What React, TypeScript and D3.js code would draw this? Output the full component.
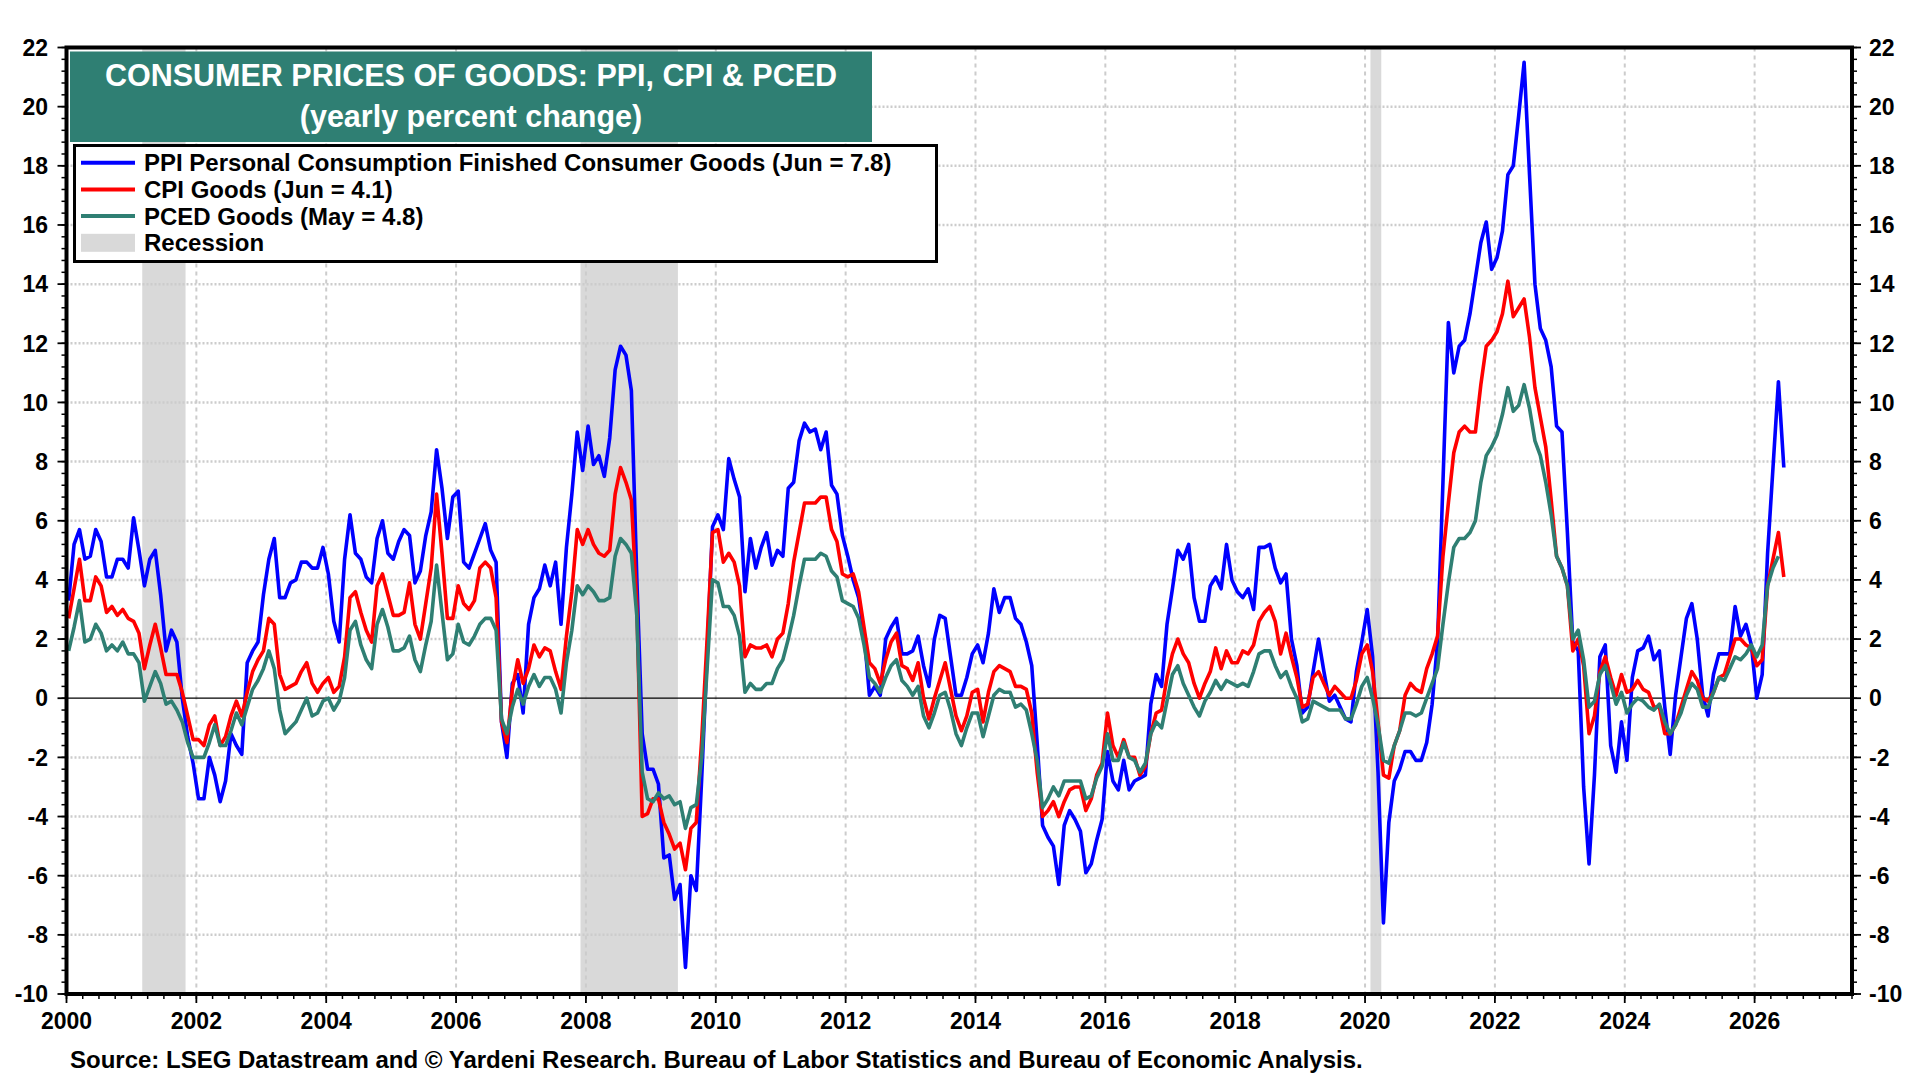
import React from "react";
import * as d3 from "d3";

const START_YEAR = 2000;

const ppi = [
  3.3, 5.2, 5.7, 4.7, 4.8, 5.7, 5.3, 4.1, 4.1, 4.7, 4.7, 4.4,
  6.1, 5.0, 3.8, 4.7, 5.0, 3.5, 1.6, 2.3, 1.9, 0.0, -1.3, -2.2,
  -3.4, -3.4, -2.0, -2.6, -3.5, -2.8, -1.2, -1.6, -1.9, 1.2, 1.6, 1.9,
  3.5, 4.7, 5.4, 3.4, 3.4, 3.9, 4.0, 4.6, 4.6, 4.4, 4.4, 5.1,
  4.2, 2.6, 1.9, 4.7, 6.2, 4.9, 4.7, 4.1, 3.9, 5.4, 6.0, 4.9,
  4.7, 5.3, 5.7, 5.5, 3.9, 4.3, 5.5, 6.3, 8.4, 7.1, 5.4, 6.8,
  7.0, 4.6, 4.4, 4.9, 5.4, 5.9, 5.0, 4.6, -0.8, -2.0, 0.5, 0.8,
  -0.5, 2.5, 3.4, 3.7, 4.5, 3.8, 4.6, 2.5, 5.1, 6.9, 9.0, 7.7,
  9.2, 7.9, 8.2, 7.5, 8.8, 11.1, 11.9, 11.6, 10.4, 4.1, -1.2, -2.4,
  -2.4, -2.9, -5.4, -5.3, -6.8, -6.3, -9.1, -6.0, -6.5, -2.7, 1.5, 5.8,
  6.2, 5.7, 8.1, 7.4, 6.8, 3.6, 5.4, 4.4, 5.1, 5.6, 4.5, 5.0,
  4.8, 7.1, 7.3, 8.7, 9.3, 9.0, 9.1, 8.4, 9.0, 7.2, 6.9, 5.5,
  4.8, 4.0, 3.4, 2.2, 0.1, 0.4, 0.1, 2.0, 2.4, 2.7, 1.5, 1.5,
  1.6, 2.1, 1.1, 0.4, 2.0, 2.8, 2.7, 1.4, 0.1, 0.1, 0.7, 1.5,
  1.8, 1.2, 2.2, 3.7, 2.9, 3.4, 3.4, 2.7, 2.5, 1.9, 1.1, -1.5,
  -4.3, -4.7, -5.0, -6.3, -4.3, -3.8, -4.1, -4.5, -5.9, -5.6, -4.8, -4.1,
  -1.8, -2.8, -3.1, -2.1, -3.1, -2.8, -2.7, -2.6, -0.2, 0.8, 0.4, 2.5,
  3.7, 5.0, 4.7, 5.2, 3.4, 2.6, 2.6, 3.8, 4.1, 3.7, 5.2, 4.0,
  3.6, 3.4, 3.7, 3.0, 5.1, 5.1, 5.2, 4.4, 3.9, 4.2, 2.0, 1.1,
  -0.5, -0.3, 0.9, 2.0, 0.9, -0.1, 0.1, -0.3, -0.7, -0.8, 0.9, 1.9,
  3.0, 1.4, -2.5, -7.6, -4.2, -2.8, -2.4, -1.8, -1.8, -2.1, -2.1, -1.5,
  -0.2, 1.9, 7.3, 12.7, 11.0, 11.9, 12.1, 13.0, 14.2, 15.4, 16.1, 14.5,
  14.9, 15.8, 17.7, 18.0, 19.7, 21.5, 17.7, 14.0, 12.5, 12.1, 11.2, 9.2,
  9.0, 5.6, 1.9, 1.6, -3.0, -5.6, -2.6, 1.4, 1.8, -1.6, -2.5, -0.8,
  -2.1, 0.7, 1.6, 1.7, 2.1, 1.3, 1.6, -0.3, -1.9, 0.1, 1.4, 2.7,
  3.2, 2.0, 0.1, -0.6, 0.8, 1.5, 1.5, 1.5, 3.1, 2.1, 2.5, 1.8,
  0.0, 0.8, 4.9, 7.8, 10.7, 7.8,
];

const cpi = [
  2.7, 3.7, 4.7, 3.3, 3.3, 4.1, 3.8, 2.9, 3.1, 2.8, 3.0, 2.7,
  2.6, 2.2, 1.0, 1.8, 2.5, 1.7, 0.8, 0.8, 0.8, 0.2, -0.6, -1.4,
  -1.4, -1.6, -0.9, -0.6, -1.6, -1.3, -0.6, -0.1, -0.6, 0.2, 0.9, 1.3,
  1.6, 2.7, 2.5, 0.8, 0.3, 0.4, 0.5, 0.9, 1.2, 0.5, 0.2, 0.5,
  0.7, 0.2, 0.4, 1.4, 3.4, 3.6, 2.9, 2.3, 1.9, 3.8, 4.2, 3.5,
  2.8, 2.8, 2.9, 3.9, 2.5, 2.0, 3.2, 4.4, 6.9, 4.9, 2.7, 2.7,
  3.8, 3.2, 3.0, 3.3, 4.4, 4.6, 4.4, 3.4, -0.8, -1.5, 0.3, 1.3,
  0.5, 1.0, 1.8, 1.4, 1.7, 1.6, 0.9, 0.3, 2.1, 3.6, 5.7, 5.2,
  5.7, 5.2, 4.9, 4.8, 5.0, 6.9, 7.8, 7.3, 6.7, 3.2, -4.0, -3.9,
  -3.4, -3.4, -4.2, -4.6, -5.1, -4.9, -5.8, -4.4, -4.2, -1.4, 2.0, 5.6,
  5.7, 4.6, 4.9, 4.6, 3.8, 1.4, 1.8, 1.7, 1.7, 1.8, 1.4, 2.0,
  2.2, 3.2, 4.6, 5.6, 6.6, 6.6, 6.6, 6.8, 6.8, 5.7, 5.3, 4.2,
  4.1, 4.2, 3.6, 2.4, 1.2, 1.0, 0.5, 1.3, 1.9, 2.2, 1.1, 1.0,
  0.6, 1.2, 0.0, -0.7, 0.0, 0.6, 1.2, 0.3, -0.6, -1.1, -0.6, 0.2,
  0.3, -0.8, 0.2, 0.9, 1.1, 1.0, 0.9, 0.4, 0.4, 0.3, -0.5, -2.5,
  -4.0, -3.8, -3.5, -4.0, -3.5, -3.1, -3.0, -3.0, -3.8, -3.4, -2.6, -2.2,
  -0.5, -1.6, -2.0, -1.4, -2.0, -2.0, -2.6, -2.3, -1.2, -0.5, -0.4, 0.7,
  1.5, 2.0, 1.5, 1.2, 0.5, 0.0, 0.5, 0.9, 1.7, 1.0, 1.6, 1.2,
  1.2, 1.6, 1.5, 1.8, 2.6, 2.9, 3.1, 2.6, 1.5, 2.2, 1.4, 0.7,
  -0.3, -0.2, 0.7, 0.9, 0.5, 0.1, 0.4, 0.2, 0.0, 0.0, 0.6, 1.5,
  1.8, 0.9, -0.8, -2.6, -2.7, -1.6, -1.1, 0.1, 0.5, 0.3, 0.2, 1.0,
  1.5, 2.1, 4.8, 6.6, 8.3, 9.0, 9.2, 9.0, 9.0, 10.6, 11.9, 12.1,
  12.4, 13.0, 14.1, 12.9, 13.2, 13.5, 12.2, 10.5, 9.5, 8.5, 6.7, 4.8,
  4.4, 3.8, 1.6, 2.0, 1.1, -1.2, -0.6, 0.9, 1.4, 0.7, 0.1, 0.8,
  0.2, 0.3, 0.6, 0.3, 0.2, -0.3, -0.3, -1.2, -1.2, -0.9, -0.3, 0.3,
  0.9, 0.6, 0.0, -0.1, 0.2, 0.7, 0.8, 1.4, 2.0, 2.0, 1.8, 1.7,
  1.1, 1.3, 3.8, 4.7, 5.6, 4.1,
];

const pced = [
  1.6, 2.4, 3.3, 1.9, 2.0, 2.5, 2.2, 1.6, 1.8, 1.6, 1.9, 1.5,
  1.5, 1.2, -0.1, 0.4, 0.9, 0.5, -0.2, -0.1, -0.4, -0.8, -1.5, -2.0,
  -2.0, -2.0, -1.5, -0.9, -1.6, -1.6, -1.1, -0.5, -0.9, -0.3, 0.3, 0.6,
  1.0, 1.6, 1.0, -0.4, -1.2, -1.0, -0.8, -0.4, 0.0, -0.6, -0.5, -0.1,
  0.0, -0.4, -0.1, 0.7, 2.3, 2.6, 1.8, 1.3, 1.0, 2.5, 3.0, 2.4,
  1.6, 1.6, 1.7, 2.1, 1.3, 0.9, 1.8, 2.6, 4.5, 2.9, 1.3, 1.5,
  2.5, 1.9, 1.8, 2.1, 2.5, 2.7, 2.7, 2.3, -0.7, -1.2, -0.3, 0.3,
  -0.2, 0.4, 0.8, 0.4, 0.7, 0.7, 0.3, -0.5, 1.2, 2.3, 3.8, 3.5,
  3.8, 3.6, 3.3, 3.3, 3.4, 4.8, 5.4, 5.2, 4.9, 2.8, -2.5, -3.4,
  -3.5, -3.2, -3.4, -3.3, -3.6, -3.5, -4.4, -3.7, -3.6, -2.0, 1.0, 4.0,
  3.9, 3.1, 3.1, 2.8, 2.1, 0.2, 0.5, 0.3, 0.3, 0.5, 0.5, 1.0,
  1.3, 2.0, 2.8, 3.8, 4.7, 4.7, 4.7, 4.9, 4.8, 4.3, 4.1, 3.3,
  3.2, 3.1, 2.7, 1.8, 0.7, 0.5, 0.2, 0.7, 1.1, 1.3, 0.6, 0.4,
  0.1, 0.4, -0.6, -1.0, -0.5, 0.1, 0.2, -0.4, -1.2, -1.6, -1.0, -0.5,
  -0.5, -1.3, -0.6, 0.1, 0.3, 0.2, 0.2, -0.3, -0.2, -0.4, -1.2, -2.1,
  -3.7, -3.4, -3.0, -3.3, -2.8, -2.8, -2.8, -2.8, -3.4, -3.3, -2.7, -2.3,
  -1.2, -2.1, -2.1, -1.5, -2.0, -2.1, -2.5, -2.2, -1.2, -0.8, -1.0, -0.1,
  0.8, 1.1, 0.5, 0.1, -0.3, -0.6, -0.1, 0.2, 0.6, 0.3, 0.6, 0.5,
  0.4, 0.5, 0.4, 0.9, 1.5, 1.6, 1.6, 1.1, 0.7, 0.9, 0.4, 0.0,
  -0.8, -0.7, -0.1, -0.2, -0.3, -0.4, -0.4, -0.4, -0.7, -0.7, -0.2, 0.4,
  0.7, 0.0, -0.9, -2.1, -2.2, -1.6, -1.1, -0.5, -0.5, -0.6, -0.5, 0.0,
  0.5, 1.0, 2.5, 3.9, 5.1, 5.4, 5.4, 5.6, 6.0, 7.3, 8.2, 8.5,
  8.9, 9.6, 10.5, 9.7, 9.9, 10.6, 9.8, 8.7, 8.2, 7.3, 6.2, 4.8,
  4.4, 3.8, 2.0, 2.3, 1.3, -0.3, -0.1, 0.8, 1.1, 0.5, -0.2, 0.2,
  -0.5, -0.2, 0.0, -0.1, -0.3, -0.4, -0.2, -0.8, -1.2, -0.9, -0.5, 0.1,
  0.5, 0.3, -0.3, -0.3, 0.2, 0.7, 0.6, 1.0, 1.4, 1.3, 1.5, 1.8,
  1.4, 1.8, 3.8, 4.4, 4.8,
];

const recessionStarts = [2001 + 2 / 12, 2007 + 11 / 12, 2020 + 1 / 12];
const recessionEnds = [2001 + 10 / 12, 2009 + 5 / 12, 2020 + 3 / 12];

const yTickValues = d3.range(-10, 23, 2);
const xTickYears = d3.range(2000, 2027, 2);

const titleLines = ["CONSUMER PRICES OF GOODS: PPI, CPI & PCED", "(yearly percent change)"];
const legendLabels = [
  "PPI Personal Consumption Finished Consumer Goods (Jun = 7.8)",
  "CPI Goods (Jun = 4.1)",
  "PCED Goods (May = 4.8)",
  "Recession",
];
const sourceText =
  "Source: LSEG Datastream and \u00A9 Yardeni Research. Bureau of Labor Statistics and Bureau of Economic Analysis.";

const BLUE = "#0000ff";
const RED = "#ff0000";
const TEAL = "#2f7f73";
const GREY = "#d9d9d9";
const FONT = "'Liberation Sans', Arial, Helvetica, sans-serif";

const W = 1920;
const H = 1080;
const LEFT = 66.5;
const RIGHT = 1852;
const TOP = 47.5;
const BOTTOM = 994;

export default function App() {
  const x = d3.scaleLinear().domain([2000, 2027.5]).range([LEFT, RIGHT]);
  const y = d3.scaleLinear().domain([-10, 22]).range([BOTTOM, TOP]);

  const toPoints = (arr: number[]) =>
    arr.map((v, i) => ({ t: START_YEAR + (i + 0.4) / 12, v }));

  const line = d3
    .line<{ t: number; v: number }>()
    .x((d) => x(d.t))
    .y((d) => y(d.v));

  const series = [
    { data: ppi, color: BLUE },
    { data: cpi, color: RED },
    { data: pced, color: TEAL },
  ];

  const yMinor = d3.range(-10, 22.001, 0.4);
  const xMinor = d3.range(2000, 2027.5001, 0.25);
  const gridY = yTickValues.filter((v) => v !== -10 && v !== 22 && v !== 0);
  const gridX = xTickYears.filter((v) => v !== 2000);

  const legendColors = [BLUE, RED, TEAL];

  return (
    <svg
      width={W}
      height={H}
      viewBox={`0 0 ${W} ${H}`}
      style={{ position: "absolute", left: 0, top: 0, background: "#fff" }}
      fontFamily={FONT}
    >
      <rect x={0} y={0} width={W} height={H} fill="#fff" />

      {/* recessions */}
      {recessionStarts.map((s, i) => (
        <rect
          key={"rec" + i}
          x={x(s)}
          y={TOP}
          width={x(recessionEnds[i]) - x(s)}
          height={BOTTOM - TOP}
          fill={GREY}
        />
      ))}

      {/* gridlines */}
      {gridY.map((v) => (
        <line
          key={"gy" + v}
          x1={LEFT}
          x2={RIGHT}
          y1={y(v)}
          y2={y(v)}
          stroke="#cccccc"
          strokeWidth={2.5}
          strokeDasharray="2,2"
        />
      ))}
      {gridX.map((v) => (
        <line
          key={"gx" + v}
          x1={x(v)}
          x2={x(v)}
          y1={TOP}
          y2={BOTTOM}
          stroke="#cccccc"
          strokeWidth={2}
          strokeDasharray="4,4"
        />
      ))}

      {/* zero line */}
      <line x1={LEFT} x2={RIGHT} y1={y(0)} y2={y(0)} stroke="#000" strokeWidth={1.3} />

      {/* series */}
      {series.map((s, i) => (
        <path
          key={"s" + i}
          d={line(toPoints(s.data)) || ""}
          fill="none"
          stroke={s.color}
          strokeWidth={3.6}
          strokeLinejoin="round"
        />
      ))}

      {/* frame */}
      <rect
        x={LEFT}
        y={TOP}
        width={RIGHT - LEFT}
        height={BOTTOM - TOP}
        fill="none"
        stroke="#000"
        strokeWidth={4}
      />

      {/* y ticks */}
      {yMinor.map((v, i) => (
        <g key={"ym" + i}>
          <line x1={LEFT - 5} x2={LEFT} y1={y(v)} y2={y(v)} stroke="#000" strokeWidth={1.5} />
          <line x1={RIGHT} x2={RIGHT + 5} y1={y(v)} y2={y(v)} stroke="#000" strokeWidth={1.5} />
        </g>
      ))}
      {yTickValues.map((v) => (
        <g key={"yt" + v}>
          <line x1={LEFT - 9} x2={LEFT} y1={y(v)} y2={y(v)} stroke="#000" strokeWidth={1.8} />
          <line x1={RIGHT} x2={RIGHT + 9} y1={y(v)} y2={y(v)} stroke="#000" strokeWidth={1.8} />
          <text
            x={48}
            y={y(v)}
            dy="0.36em"
            textAnchor="end"
            fontSize={23}
            fontWeight="bold"
            fill="#000"
          >
            {v}
          </text>
          <text
            x={1869}
            y={y(v)}
            dy="0.36em"
            textAnchor="start"
            fontSize={23}
            fontWeight="bold"
            fill="#000"
          >
            {v}
          </text>
        </g>
      ))}

      {/* x ticks */}
      {xMinor.map((v, i) => (
        <line
          key={"xm" + i}
          x1={x(v)}
          x2={x(v)}
          y1={BOTTOM}
          y2={BOTTOM + 5}
          stroke="#000"
          strokeWidth={1.5}
        />
      ))}
      {xTickYears.map((v) => (
        <g key={"xt" + v}>
          <line x1={x(v)} x2={x(v)} y1={BOTTOM} y2={BOTTOM + 9} stroke="#000" strokeWidth={1.8} />
          <text
            x={x(v)}
            y={1029}
            textAnchor="middle"
            fontSize={23}
            fontWeight="bold"
            fill="#000"
          >
            {v}
          </text>
        </g>
      ))}

      {/* title box */}
      <rect x={70} y={51.5} width={802} height={90.5} fill={TEAL} />
      <text
        x={471}
        y={86}
        textAnchor="middle"
        fontSize={30.5}
        fontWeight="bold"
        fill="#fff"
      >
        {titleLines[0]}
      </text>
      <text
        x={471}
        y={127}
        textAnchor="middle"
        fontSize={30.5}
        fontWeight="bold"
        fill="#fff"
      >
        {titleLines[1]}
      </text>

      {/* legend */}
      <rect x={74.5} y={145.5} width={862} height={116} fill="#fff" stroke="#000" strokeWidth={3} />
      {legendLabels.map((label, i) => {
        const cy = 162.7 + i * 26.7;
        return (
          <g key={"lg" + i}>
            {i < 3 ? (
              <line x1={81} x2={135} y1={cy} y2={cy} stroke={legendColors[i]} strokeWidth={4} />
            ) : (
              <rect x={81} y={cy - 9} width={54} height={18} fill={GREY} />
            )}
            <text x={144} y={cy + 8.5} fontSize={24} fontWeight="bold" fill="#000">
              {label}
            </text>
          </g>
        );
      })}

      {/* source */}
      <text x={70} y={1068} fontSize={24} fontWeight="bold" fill="#000">
        {sourceText}
      </text>
    </svg>
  );
}
